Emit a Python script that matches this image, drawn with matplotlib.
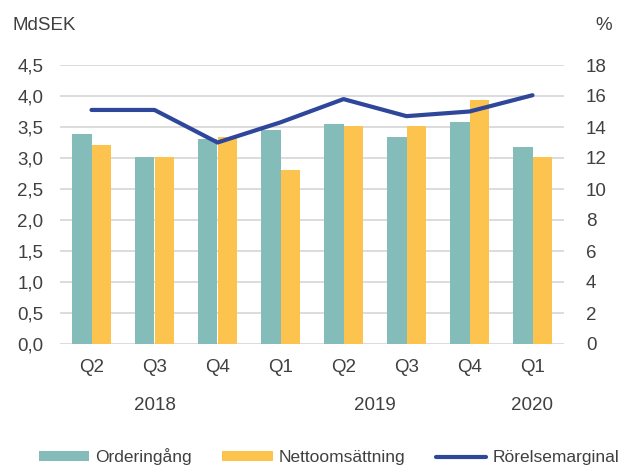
import matplotlib
matplotlib.use("Agg")
import matplotlib.pyplot as plt
import numpy as np

quarters = ["Q2", "Q3", "Q4", "Q1", "Q2", "Q3", "Q4", "Q1"]
years = ["2018", "2019", "2020"]
year_pos = [1, 4.5, 7]
orderingang = [3.38, 3.02, 3.31, 3.45, 3.55, 3.34, 3.58, 3.18]
nettoomsattning = [3.21, 3.02, 3.34, 2.80, 3.51, 3.51, 3.94, 3.02]
rorelsemarginal = [15.1, 15.1, 13.0, 14.3, 15.8, 14.7, 15.0, 16.05]
left_ticks = [0.0, 0.5, 1.0, 1.5, 2.0, 2.5, 3.0, 3.5, 4.0, 4.5]
right_ticks = [0, 2, 4, 6, 8, 10, 12, 14, 16, 18]

teal = "#84BCBA"
orange = "#FCC34F"
navy = "#2E479B"
txt = "#404040"
grid = "#D9D9D9"

plt.rcParams['font.family'] = ['Liberation Sans', 'DejaVu Sans']
fs = 13.5
lfs = 12.5

fig = plt.figure(figsize=(6.19, 4.66), dpi=100)
ax = fig.add_axes([60/619, 1-344/466, 504/619, 279/466])
x = np.arange(len(quarters))
w = 0.306
ax.bar(x - w/2, orderingang, w, color=teal, label="Orderingång", zorder=2)
ax.bar(x + w/2, nettoomsattning, w, color=orange, label="Nettoomsättning", zorder=2)
ax.set_xlim(-0.5, len(quarters) - 0.5)
ax.set_ylim(0, 4.5)
ax.set_yticks(left_ticks)
ax.set_yticklabels([f"{v:.1f}".replace(".", ",") for v in left_ticks])
ax.yaxis.grid(True, color=grid, lw=1.3, zorder=0)
ax.set_axisbelow(True)
for s in ax.spines.values():
    s.set_visible(False)
ax.tick_params(axis='y', length=0, pad=12, labelsize=fs, labelcolor=txt)
ax.set_xticks(x)
ax.set_xticklabels(quarters)
ax.tick_params(axis='x', length=0, pad=11, labelsize=fs, labelcolor=txt)
for yr, p in zip(years, year_pos):
    ax.text(p, -0.222, yr, transform=ax.get_xaxis_transform(), ha='center', va='center',
            fontsize=fs, color=txt)

ax2 = ax.twinx()
ax2.plot(x, rorelsemarginal, color=navy, lw=3, label="Rörelsemarginal", zorder=3,
         solid_capstyle='round')
ax2.set_ylim(0, 18)
ax2.set_yticks(right_ticks)
ax2.tick_params(axis='y', length=0, pad=15.8, labelsize=fs, labelcolor=txt)
for s in ax2.spines.values():
    s.set_visible(False)

fig.text(13/619, 1-25/466, "MdSEK", ha='left', va='center', fontsize=fs, color=txt)
fig.text(612/619, 1-25/466, "%", ha='right', va='center', fontsize=fs, color=txt)

h1, l1 = ax.get_legend_handles_labels()
h2, l2 = ax2.get_legend_handles_labels()
leg = fig.legend(h1 + h2, l1 + l2, loc='center', bbox_to_anchor=(329/619, 1-457/466), ncol=3,
                 frameon=False, fontsize=lfs, handlelength=2.9, handleheight=0.5,
                 handletextpad=0.35, columnspacing=1.75, borderaxespad=0, borderpad=0)
for t in leg.get_texts():
    t.set_color(txt)

fig.savefig("out.png", dpi=100)
